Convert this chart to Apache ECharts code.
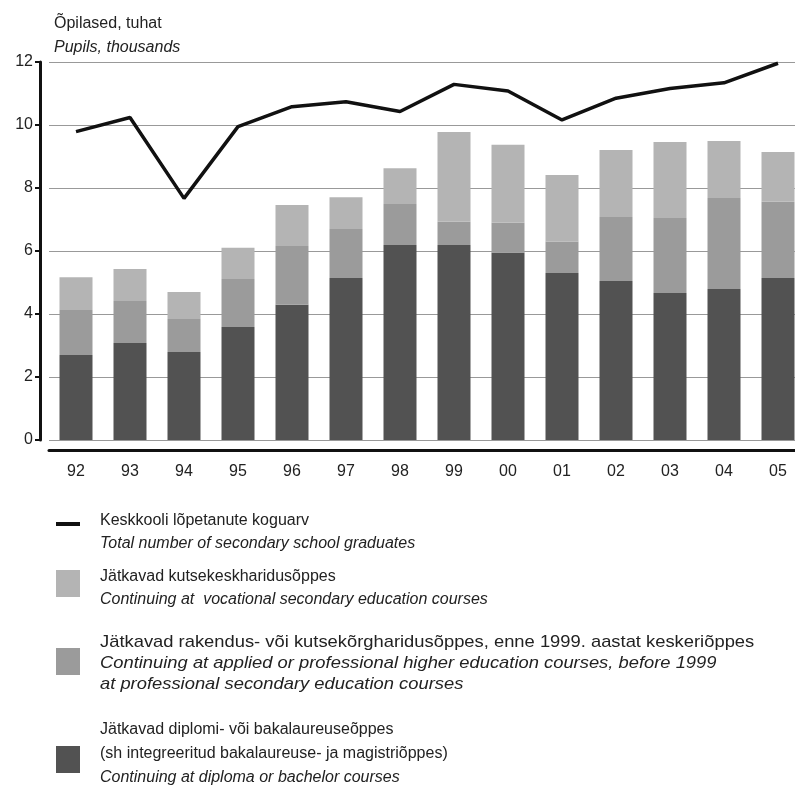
<!DOCTYPE html>
<html>
<head>
<meta charset="utf-8">
<script src="https://cdn.jsdelivr.net/npm/echarts@6/dist/echarts.min.js"></script>
<style>
  html, body { margin: 0; padding: 0; background: #fff; overflow: hidden; }
  /* a bit wider than the window: the last bar is cut by the right edge */
  #chart { width: 815px; height: 787px; }
</style>
</head>
<body>
<div id="chart"></div>
<script>
// years
const years = ['92','93','94','95','96','97','98','99','00','01','02','03','04','05']

// thousands of pupils
const totalGraduates = [9.79,10.24,7.67,9.95,10.58,10.74,10.43,11.29,11.08,10.16,10.85,11.16,11.34,11.96]
const diplomaBachelor = [2.70,3.08,2.79,3.59,4.29,5.14,6.19,6.19,5.95,5.30,5.05,4.67,4.79,5.14]
const appliedHigher = [1.43,1.33,1.05,1.52,1.87,1.56,1.30,0.74,0.95,1.00,2.03,2.38,2.89,2.42]
const vocationalSecondary = [1.04,1.02,0.86,0.99,1.30,1.01,1.14,2.85,2.47,2.11,2.13,2.41,1.81,1.58]

const yTicks = [0, 2, 4, 6, 8, 10, 12]

const font = '"Liberation Sans", Arial, sans-serif'
const txt = '#222'
const cDark = '#525252', cMid = '#9b9b9b', cLight = '#b4b4b4'

var myChart = echarts.init(document.getElementById('chart'))

// legend drawn by hand, the text blocks are uneven
// [text, y centre, italic, font size, x stretch]
const legendItems = [
  { kind: 'line', color: '#111', iconY: 524, lines: [
    ['Keskkooli lõpetanute koguarv', 521, false, 16, 1],
    ['Total number of secondary school graduates', 544, true, 16, 1]] },
  { kind: 'box', color: cLight, iconY: 570, lines: [
    ['Jätkavad kutsekeskharidusõppes', 577, false, 16, 1],
    ['Continuing at  vocational secondary education courses', 600, true, 16, 1]] },
  { kind: 'box', color: cMid, iconY: 648, lines: [
    ['Jätkavad rakendus- või kutsekõrgharidusõppes, enne 1999. aastat keskeriõppes', 642, false, 17, 1.08],
    ['Continuing at applied or professional higher education courses, before 1999', 663, true, 17, 1.08],
    ['at professional secondary education courses', 684, true, 17, 1.08]] },
  { kind: 'box', color: cDark, iconY: 746, lines: [
    ['Jätkavad diplomi- või bakalaureuseõppes', 730, false, 16, 1],
    ['(sh integreeritud bakalaureuse- ja magistriõppes)', 754, false, 16, 1],
    ['Continuing at diploma or bachelor courses', 778, true, 16, 1]] }
]

const graphics = []
legendItems.forEach(function (it) {
  if (it.kind === 'line') {
    graphics.push({ type: 'rect', x: 56, y: it.iconY - 2, shape: { width: 24, height: 4 }, style: { fill: it.color } })
  } else {
    graphics.push({ type: 'rect', x: 56, y: it.iconY, shape: { width: 24, height: 27 }, style: { fill: it.color } })
  }
  it.lines.forEach(function (l) {
    graphics.push({
      type: 'text', x: 100, y: l[1], scaleX: l[4],
      style: { text: l[0], fill: txt, verticalAlign: 'middle', font: (l[2] ? 'italic ' : '') + l[3] + 'px ' + font }
    })
  })
})

myChart.setOption({
  animation: false,
  backgroundColor: '#fff',
  title: {
    text: 'Õpilased, tuhat',
    subtext: 'Pupils, thousands',
    left: 54, top: 16, itemGap: 8, padding: 0,
    textStyle: { fontFamily: font, fontSize: 16, fontWeight: 'normal', color: txt },
    subtextStyle: { fontFamily: font, fontSize: 16, fontStyle: 'italic', color: txt }
  },
  grid: { left: 49, top: 62, width: 756, height: 378 },
  xAxis: {
    type: 'category',
    data: years,
    offset: 10,
    axisLine: { onZero: false, lineStyle: { color: '#111', width: 3 } },
    axisTick: { length: 6, lineStyle: { color: '#111', width: 2 } },
    axisLabel: { margin: 14, fontFamily: font, fontSize: 16, color: txt }
  },
  yAxis: {
    type: 'value',
    min: yTicks[0], max: yTicks[yTicks.length - 1], interval: 2,
    offset: 9,
    axisLine: { show: true, lineStyle: { color: '#111', width: 3 } },
    axisTick: { show: true, length: 5, lineStyle: { color: '#111', width: 2 } },
    axisLabel: { margin: 7, fontFamily: font, fontSize: 16, color: txt },
    splitLine: { show: true, lineStyle: { color: '#999', width: 1 } }
  },
  series: [
    { name: 'diploma', type: 'bar', stack: 'a', barWidth: 33, data: diplomaBachelor, itemStyle: { color: cDark } },
    { name: 'applied', type: 'bar', stack: 'a', data: appliedHigher, itemStyle: { color: cMid } },
    { name: 'vocational', type: 'bar', stack: 'a', data: vocationalSecondary, itemStyle: { color: cLight } },
    { name: 'total', type: 'line', data: totalGraduates, symbol: 'none', z: 5,
      lineStyle: { color: '#111', width: 3.5 } }
  ],
  graphic: graphics
})
</script>
</body>
</html>
